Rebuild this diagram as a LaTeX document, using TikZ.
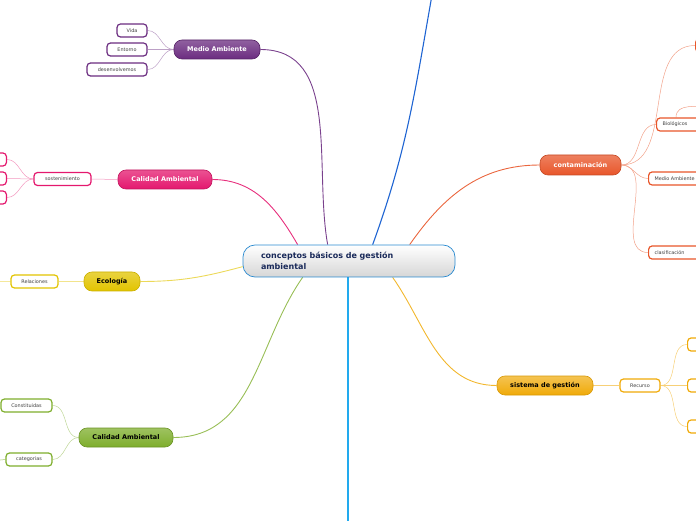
\documentclass[tikz,border=0pt]{standalone}
\usepackage{fontspec}
\setmainfont{DejaVu Sans}
\usetikzlibrary{positioning,backgrounds}

\definecolor{cblue}{HTML}{2A8AD0}
\definecolor{cdeep}{HTML}{1E64D2}
\definecolor{csky}{HTML}{22AAEE}
\definecolor{cnavy}{HTML}{1A2A5A}
\definecolor{cpurple}{HTML}{6B2C80}
\definecolor{cpink}{HTML}{E4186E}
\definecolor{cyellow}{HTML}{E2C400}
\definecolor{cgreen}{HTML}{7EAE2C}
\definecolor{corange}{HTML}{E8562A}
\definecolor{camber}{HTML}{F0AA08}

\begin{document}
\begin{tikzpicture}[x=1pt,y=1pt,
	topic/.style={rounded corners=8pt, minimum height=19pt, inner sep=0pt, line width=0.6pt, font=\fontsize{6.5}{8}\selectfont\bfseries},
	leaf/.style={draw, rounded corners=3.5pt, fill=white, minimum height=13pt, inner xsep=6pt, inner ysep=0pt, line width=1.2pt, font=\fontsize{4.9}{6}\selectfont, text=black!75},
	link/.style={line width=0.9pt},
	twig/.style={line width=0.5pt}]
	\useasboundingbox (0,0) rectangle (696,520);

	% central topic
	\node [draw=cblue, line width=0.7pt, rounded corners=12pt, top color=white, bottom color=black!16,
		minimum width=212pt, minimum height=32pt, text width=176pt, inner xsep=18pt, align=left,
		text=cnavy, font=\fontsize{8}{10.5}\selectfont\bfseries] (c) at (349,259) {conceptos básicos de gestión\\ambiental};

	% Medio Ambiente
	\node [topic, draw=cpurple!80!black, top color=cpurple!75, bottom color=cpurple, text=white, minimum width=86pt] (ma) at (217,470.5) {Medio Ambiente};
	\node [leaf, draw=cpurple, minimum width=30pt] (vida) at (132,489.5) {Vida};
	\node [leaf, draw=cpurple, minimum width=40pt] (ent) at (127,470.5) {Entorno};
	\node [leaf, draw=cpurple, minimum width=60pt] (des) at (117,450.5) {desenvolvemos};

	% Calidad Ambiental (rosa)
	\node [topic, draw=cpink!85!black, top color=cpink!75, bottom color=cpink, text=white, minimum width=94pt] (cap) at (165,340.5) {Calidad Ambiental};
	\node [leaf, draw=cpink, minimum width=57pt] (sos) at (62.5,341) {sostenimiento};
	\node [leaf, draw=cpink, minimum width=30pt, anchor=east] (s1) at (7,360.5) {};
	\node [leaf, draw=cpink, minimum width=30pt, anchor=east] (s2) at (7,341.5) {};
	\node [leaf, draw=cpink, minimum width=30pt, anchor=east] (s3) at (7,322.5) {};

	% Ecologia
	\node [topic, draw=cyellow!90!black, top color=cyellow!75, bottom color=cyellow, text=black, minimum width=56pt] (eco) at (112,238.5) {Ecología};
	\node [leaf, draw=cyellow, minimum width=47pt] (rel) at (34.5,238.5) {Relaciones};
	\coordinate (relend) at (-20,238);

	% Calidad Ambiental (verde)
	\node [topic, draw=cgreen!85!black, top color=cgreen!75, bottom color=cgreen, text=black, minimum width=94pt] (cav) at (126,82.5) {Calidad Ambiental};
	\node [leaf, draw=cgreen, minimum width=51pt] (cons) at (26.5,114.5) {Constituidas};
	\node [leaf, draw=cgreen, minimum width=46pt] (cat) at (29,60.5) {categorias};
	\coordinate (catend) at (-20,58);

	% contaminacion
	\node [topic, draw=corange!85!black, top color=corange!75, bottom color=corange, text=white, minimum width=81pt, minimum height=20pt] (cont) at (580.5,355) {contaminación};
	\node [leaf, draw=corange, minimum width=40pt, anchor=west] (k1) at (695,474.5) {};
	\node [leaf, draw=corange, minimum width=60pt, anchor=west, align=left, text width=48pt] (bio) at (656,395.5) {Biológicos};
	\node [leaf, draw=corange, minimum width=60pt, anchor=west, align=left, text width=60pt] (mam) at (648,341.5) {Medio Ambiente};
	\node [leaf, draw=corange, minimum width=60pt, anchor=west, align=left, text width=48pt] (cla) at (648,267.5) {clasificación};
	\coordinate (bioend) at (712,413);

	% sistema de gestion
	\node [topic, draw=camber!90!black, top color=camber!70, bottom color=camber, text=black, minimum width=96pt] (sis) at (545,134.5) {sistema de gestión};
	\node [leaf, draw=camber, minimum width=40pt] (rec) at (640,134.5) {Recurso};
	\node [leaf, draw=camber, minimum width=40pt, anchor=west] (r1) at (687,175.5) {};
	\node [leaf, draw=camber, minimum width=40pt, anchor=west] (r2) at (687,134.5) {};
	\node [leaf, draw=camber, minimum width=40pt, anchor=west] (r3) at (687,93.5) {};

	\coordinate (topend) at (432,525);
	\coordinate (botend) at (348,-5);

	\begin{pgfonlayer}{background}
		% ramas principales
		\draw [link, color=cpurple!90] (ma.east) to[out=0, in=100] ([xshift=85pt]c.north west);
		\draw [link, color=cpink!90] (cap.east) to[out=0, in=120] ([xshift=55pt]c.north west);
		\draw [link, color=cyellow!65] (eco.east) to[out=0, in=195] ([yshift=-22pt]c.north west);
		\draw [link, color=cgreen!80] (cav.east) to[out=0, in=-125] ([xshift=60pt]c.south west);
		\draw [link, color=corange!90] ([xshift=167pt]c.north west) to[out=55, in=180] (cont.west);
		\draw [link, color=camber!85] ([xshift=150pt]c.south west) to[out=-55, in=180] (sis.west);
		\draw [line width=1.1pt, color=cdeep] ([xshift=130pt]c.north west) to[out=70, in=-100] (topend);
		\draw [line width=1.2pt, color=csky] (c.south -| botend) -- (botend);

		% ramas secundarias
		\foreach \n in {vida,ent,des}
			\draw [twig, color=cpurple!45] (ma.west) to[out=180, in=0] (\n.east);
		\draw [twig, color=cpink!45] (cap.west) -- (sos.east);
		\foreach \n in {s1,s2,s3}
			\draw [twig, color=cpink!45] (sos.west) to[out=180, in=0] (\n.east);
		\draw [twig, color=cyellow!45] (eco.west) -- (rel.east);
		\draw [twig, color=cyellow!60] (rel.west) -- (relend);
		\draw [twig, color=cgreen!50] (cav.west) to[out=180, in=0] (cons.east);
		\draw [twig, color=cgreen!50] (cav.west) to[out=180, in=0] (cat.east);
		\draw [twig, color=cgreen!70] (cat.west) -- (catend);
		\foreach \n in {k1,bio,mam,cla}
			\draw [twig, color=corange!55] (cont.east) to[out=0, in=180] (\n.west);
		\draw [twig, color=corange!55] ([xshift=20pt]bio.north west) to[out=90, in=180] (bioend);
		\draw [twig, color=camber!55] (sis.east) -- (rec.west);
		\foreach \n in {r1,r2,r3}
			\draw [twig, color=camber!55] (rec.east) to[out=0, in=180] (\n.west);
	\end{pgfonlayer}
\end{tikzpicture}
\end{document}
